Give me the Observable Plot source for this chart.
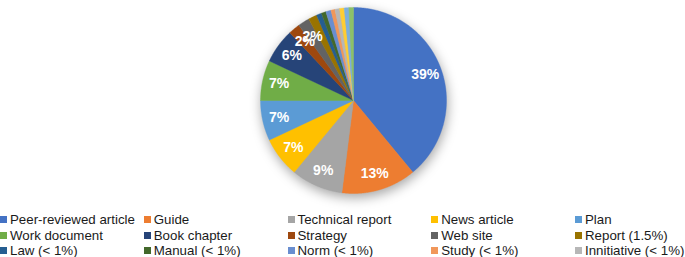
<!DOCTYPE html>
<html>
<head>
<meta charset="utf-8">
<script src="https://cdn.jsdelivr.net/npm/d3@7"></script>
<script src="https://cdn.jsdelivr.net/npm/@observablehq/plot@0.6"></script>
<style>
  body { margin: 0; background: #fff; font-family: "Liberation Sans", Arial, sans-serif; }
  #chart { width: 685px; height: 257px; position: relative; overflow: hidden; }
  #legend { display: grid; grid-template-columns: repeat(5, 143.75px); margin-top: 7px; }
  .item { display: flex; align-items: center; height: 15.5px; font-size: 13.3px; color: #1a1a1a; white-space: nowrap; }
  .sw { width: 7px; height: 7px; margin-right: 3px; flex: none; }
</style>
</head>
<body>
<div id="chart"></div>
<script>
const categories = ["Peer-reviewed article", "Guide", "Technical report", "News article", "Plan",
  "Work document", "Book chapter", "Strategy", "Web site", "Report (1.5%)",
  "Law (< 1%)", "Manual (< 1%)", "Norm (< 1%)", "Study (< 1%)", "Innitiative (< 1%)",
  "Other A", "Other B", "Other C"];
const values = [39, 13, 9, 7, 7, 7, 6, 2, 2, 1.5, 0.9, 0.8, 0.9, 0.7, 0.8, 0.8, 0.8, 0.8];
const pctLabels = ["39%", "13%", "9%", "7%", "7%", "7%", "6%", "2%", "2%", "", "", "", "", "", "", "", "", ""];
const colors = ["#4472C4", "#ED7D31", "#A5A5A5", "#FFC000", "#5B9BD5", "#70AD47", "#264478", "#9E480E",
  "#636363", "#997300", "#255E91", "#43682B", "#698ED0", "#F1975A", "#B7B7B7", "#FFCD33", "#7CAFDD", "#8CC168"];
const legendCount = 15;

const total = d3.sum(values);
const slices = [];
let acc = 0;
values.forEach((v, i) => {
  const a0 = acc / total * 2 * Math.PI;
  acc += v;
  const a1 = acc / total * 2 * Math.PI;
  slices.push({cat: categories[i], a0, a1, label: pctLabels[i]});
});

// polygon points per slice (angles clockwise from 12 o'clock)
const pts = [];
slices.forEach(s => {
  pts.push({cat: s.cat, x: 0, y: 0});
  const n = Math.max(2, Math.ceil((s.a1 - s.a0) / 0.005));
  for (let k = 0; k <= n; k++) {
    const a = s.a0 + (s.a1 - s.a0) * k / n;
    pts.push({cat: s.cat, x: Math.sin(a), y: Math.cos(a)});
  }
  pts.push({cat: s.cat, x: 0, y: 0});
});

const labelR = 0.82;
const labelData = slices.filter(s => s.label).map(s => {
  const m = (s.a0 + s.a1) / 2;
  return {x: labelR * Math.sin(m), y: labelR * Math.cos(m), label: s.label};
});

const plot = Plot.plot({
  width: 685,
  height: 205,
  margin: 0,
  x: {domain: [-1, 1], range: [260, 446], axis: null},
  y: {domain: [-1, 1], range: [193, 7], axis: null},
  color: {domain: categories, range: colors},
  marks: [
    Plot.line(pts, {x: "x", y: "y", z: "cat", fill: "cat", stroke: "cat", strokeWidth: 0.4, curve: "linear"}),
    Plot.text(labelData, {x: "x", y: "y", text: "label", fill: "white", fontWeight: "bold", fontSize: 14,
      fontFamily: "Liberation Sans, Arial, sans-serif"})
  ]
});
plot.style.overflow = "visible";
const g = plot.querySelector('g[aria-label="line"]');
if (g) g.style.filter = "drop-shadow(1px 4px 6px rgba(0,0,0,0.35))";

const chart = document.getElementById("chart");
chart.appendChild(plot);

const legend = document.createElement("div");
legend.id = "legend";
categories.slice(0, legendCount).forEach((c, i) => {
  const it = document.createElement("div");
  it.className = "item";
  const sw = document.createElement("span");
  sw.className = "sw";
  sw.style.background = colors[i];
  it.appendChild(sw);
  it.appendChild(document.createTextNode(c));
  legend.appendChild(it);
});
chart.appendChild(legend);
</script>
</body>
</html>
